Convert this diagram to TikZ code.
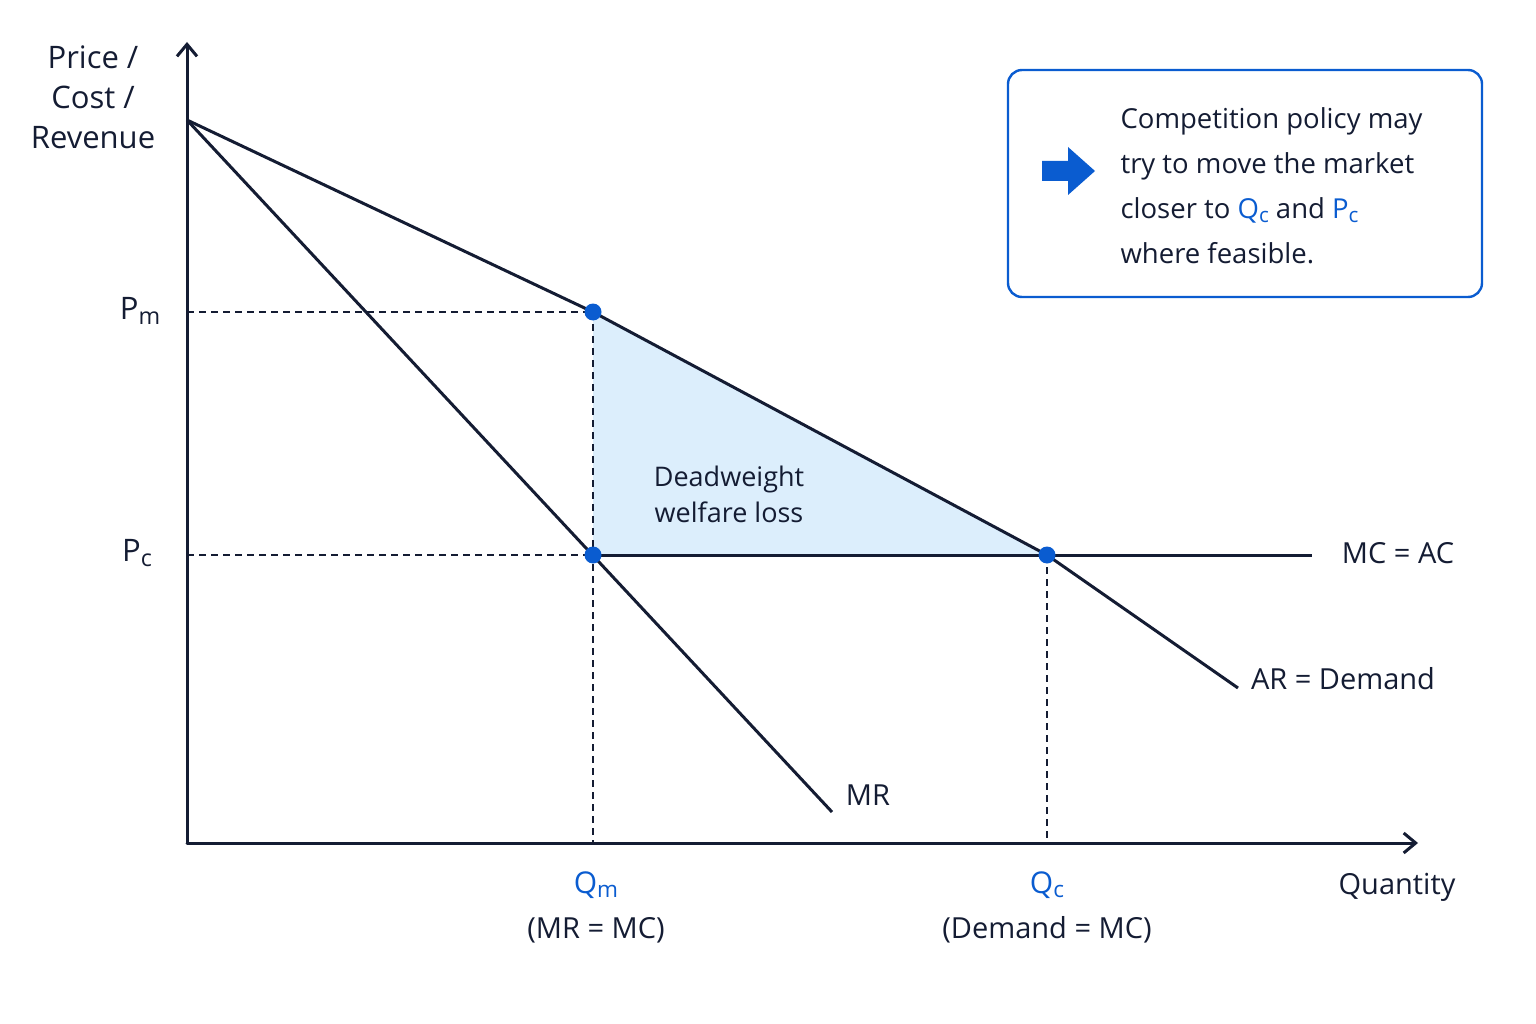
\documentclass[tikz,border=0pt]{standalone}
\usepackage{fontspec}
\setmainfont{Open Sans}
\usetikzlibrary{arrows.meta}
\newcommand{\sbs}[1]{\raisebox{-0.15em}{\fontsize{0.75em}{1em}\selectfont #1}}
\begin{document}
\begin{tikzpicture}[x=1pt,y=-1pt,
  curve/.style={line width=3pt,color=navy},
  dashln/.style={line width=1.6pt,dash pattern=on 7pt off 5pt,color=navy},
  lab/.style={font=\fontsize{29}{34}\selectfont,text=navy},
  qlab/.style={font=\fontsize{30}{34}\selectfont,text=qblue},
  dot/.style={circle,fill=qblue,inner sep=0pt,minimum size=17pt}]
\definecolor{navy}{HTML}{141C33}
\definecolor{qblue}{HTML}{0A5CD0}
\definecolor{dwlfill}{HTML}{DCEEFC}
\useasboundingbox (0,0) rectangle (1536,1024);
\coordinate (O) at (187,843);
\coordinate (top) at (187,120);
\coordinate (m) at (593,312);
\coordinate (c) at (1047,555);
\coordinate (mr) at (593,555);
\coordinate (dend) at (1238,688);
\coordinate (mrend) at (832,812);
\coordinate (mcend) at (1312,555);
\coordinate (yax) at (187,42);
\coordinate (xax) at (1418,843);
\coordinate (pm) at (187,312);
\coordinate (pc) at (187,555);
\coordinate (qm) at (593,843);
\coordinate (qc) at (1047,843);
\fill[dwlfill] (m) -- (c) -- (mr) -- cycle;
\draw[dashln] (pm) -- (m) (m) -- (qm) (pc) -- (mr) (c) -- (qc);
\draw[curve] (top) -- (m) -- (c) -- (dend);
\draw[curve] (top) -- (mrend);
\draw[curve] (mr) -- (mcend);
\draw[curve,-{Straight Barb[length=12pt,width=20pt]},line cap=round] (O) -- (yax);
\draw[curve,-{Straight Barb[length=12pt,width=20pt]},line cap=round] (O) -- (xax);
\node[dot] (dm) at (m) {};
\node[dot] (dmr) at (mr) {};
\node[dot] (dc) at (c) {};
\node[lab,align=center,font=\fontsize{31}{40}\selectfont] (ylab) at (93,97) {Price /\\Cost /\\Revenue};
\node[lab,font=\fontsize{31}{34}\selectfont] (lpm) at (140,311) {P\sbs{m}};
\node[lab,font=\fontsize{31}{34}\selectfont] (lpc) at (137,553) {P\sbs{c}};
\node[qlab] (lqm) at (596,885) {Q\sbs{m}};
\node[lab] (lqm2) at (596,930) {(MR = MC)};
\node[qlab] (lqc) at (1047,885) {Q\sbs{c}};
\node[lab] (lqc2) at (1047,930) {(Demand = MC)};
\node[lab] (lq) at (1397,887) {Quantity};
\node[lab] (lmr) at (868,795) {MR};
\node[lab] (lar) at (1343,679) {AR = Demand};
\node[lab] (lmc) at (1398,553) {MC = AC};
\node[lab,align=center,font=\fontsize{27}{36}\selectfont] (dwl) at (729,494) {Deadweight\\welfare loss};
\node[draw=qblue,line width=2.4pt,rounded corners=14pt,minimum width=474pt,minimum height=227pt] (box) at (1245,183.5) {};
\node[anchor=west,align=left,lab,font=\fontsize{27.5}{45}\selectfont] (btxt) at (1117,186) {Competition policy may\\try to move the market\\closer to \textcolor{qblue}{Q\sbs{c}} and \textcolor{qblue}{P\sbs{c}}\\where feasible.};
\fill[qblue] (1042,161) -- (1068,161) -- (1068,147) -- (1095,171) -- (1068,195) -- (1068,181) -- (1042,181) -- cycle;
\end{tikzpicture}
\end{document}
